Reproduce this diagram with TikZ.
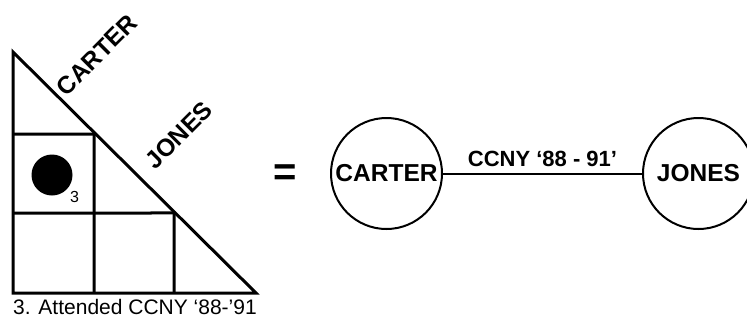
\documentclass[tikz,border=0pt]{standalone}
\usepackage{fontspec}
\setmainfont{Liberation Sans}
\begin{document}
\begin{tikzpicture}[x=1pt,y=-1pt,
  gridline/.style={line width=3pt, line cap=butt},
  diagname/.style={font=\fontsize{24.5}{24.5}\selectfont\bfseries, inner sep=0pt, rotate=45},
  person/.style={draw, circle, line width=2pt, minimum size=111pt, inner sep=0pt,
                 font=\fontsize{24.5}{24.5}\selectfont\bfseries},
  tie/.style={line width=2pt},
  tielabel/.style={font=\fontsize{22}{22}\selectfont\bfseries, inner sep=0pt, anchor=base},
  caption/.style={font=\fontsize{21}{21}\selectfont, inner sep=0pt, anchor=base west},
  eqsign/.style={font=\fontsize{40}{40}\selectfont\bfseries, inner sep=0pt, anchor=base}
]
\useasboundingbox (0,0) rectangle (747,322);

% matrix triangle
\coordinate (top) at (13,52);
\coordinate (bl) at (13,293);
\coordinate (br) at (256,293);
\draw[gridline, line join=miter] (top) -- (bl) -- (br) -- cycle;
\draw[gridline] (13,134) -- (intersection of top--br and 0,134--1,134);
\draw[gridline] (13,213) -- (intersection of top--br and 0,213--1,213);
\draw[gridline] (94,293) -- (intersection of top--br and 94,0--94,1);
\draw[gridline] (174,293) -- (intersection of top--br and 174,0--174,1);

\fill (52,175) circle (20.5);
\node[font=\fontsize{16}{16}\selectfont, inner sep=0pt, anchor=base west] (n3) at (70,202) {3};

\node[diagname] (colA) at (97,55) {CARTER};
\node[diagname] (colB) at (179,135) {JONES};

\node[caption] (cap) at (13,314) {3. Attended CCNY ‘88-’91};

\node[eqsign] (eq) at (285,185) {=};

% graph
\node[person] (carter) at (386.5,173.5) {CARTER};
\node[person] (jones) at (698.5,173.5) {JONES};
\draw[tie] (carter) -- (jones);
\path (carter) -- node[tielabel, yshift=7pt] (lab) {CCNY ‘88 - 91’} (jones);
\end{tikzpicture}
\end{document}
